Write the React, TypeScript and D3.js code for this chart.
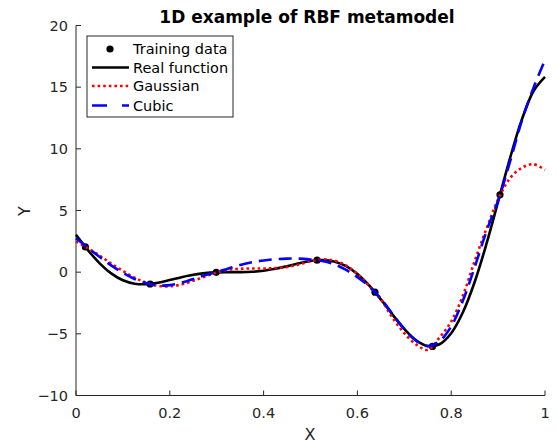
import React from "react";
import * as d3 from "d3";

const xGrid = [0, 0.025, 0.05, 0.075, 0.1, 0.125, 0.15, 0.175, 0.2, 0.225, 0.25, 0.275, 0.3, 0.325, 0.35, 0.375, 0.4, 0.425, 0.45, 0.475, 0.5, 0.525, 0.55, 0.575, 0.6, 0.625, 0.65, 0.675, 0.7, 0.725, 0.75, 0.775, 0.8, 0.825, 0.85, 0.875, 0.9, 0.925, 0.95, 0.975, 1.0];

const realY = [3.027, 1.813, 0.738, -0.1, -0.657, -0.935, -0.978, -0.854, -0.64, -0.407, -0.21, -0.079, -0.016, -0.0002, 0.002, 0.03, 0.115, 0.27, 0.483, 0.717, 0.909, 0.986, 0.871, 0.503, -0.15, -1.074, -2.209, -3.439, -4.606, -5.522, -5.993, -5.845, -4.949, -3.254, -0.799, 2.272, 5.712, 9.187, 12.303, 14.648, 15.83];

const gaussY = [2.5, 1.95, 1.35, 0.7, 0.1, -0.45, -0.85, -1.1, -1.15, -1.0, -0.7, -0.35, -0.02, 0.2, 0.28, 0.3, 0.3, 0.33, 0.42, 0.62, 0.88, 1.03, 0.95, 0.55, -0.15, -1.1, -2.2, -3.7, -4.95, -5.85, -6.3, -5.3, -4.0, -1.9, 0.9, 3.5, 5.9, 7.6, 8.45, 8.75, 8.3];

const cubicY = [2.75, 2.0, 1.25, 0.55, -0.05, -0.55, -0.9, -1.08, -1.05, -0.85, -0.55, -0.25, 0.0, 0.3, 0.58, 0.8, 0.95, 1.05, 1.1, 1.1, 1.02, 0.9, 0.65, 0.2, -0.4, -1.15, -2.15, -3.4, -4.6, -5.55, -6.0, -5.6, -4.4, -2.3, 0.4, 3.3, 5.8, 8.9, 12.2, 14.9, 17.2];

const trainX = [0.02, 0.158, 0.299, 0.514, 0.6375, 0.76, 0.904];
const trainY = [2.05, -0.96, -0.016, 0.97, -1.62, -6.02, 6.27];

const xTicks = [0, 0.2, 0.4, 0.6, 0.8, 1];
const yTicks = [-10, -5, 0, 5, 10, 15, 20];

const legendLabels = ["Training data", "Real function", "Gaussian", "Cubic"];

const FONT = "'DejaVu Sans', sans-serif";
const AX = "#262626";

export default function App() {
  const W = 558, H = 447;
  const x = d3.scaleLinear().domain([0, 1]).range([76, 545]);
  const y = d3.scaleLinear().domain([-10, 20]).range([395.5, 25.5]);

  const mk = (ys: number[]) =>
    d3.line<number>()
      .x((_, i) => x(xGrid[i]))
      .y((v) => y(v))
      .curve(d3.curveCatmullRom.alpha(0.5))(ys) || "";

  const x0 = x(0), x1 = x(1), yb = y(-10), yt = y(20);

  const lx = 87, ly = 36, lw = 146, lh = 81;
  const rows = [49, 67.5, 86, 105.5];

  return (
    <svg width={W} height={H} style={{ position: "absolute", left: 0, top: 0, background: "#fff" }} fontFamily={FONT}>
      <rect x={0} y={0} width={W} height={H} fill="#fff" />
      {/* axes */}
      <line x1={x0} y1={yb} x2={x1} y2={yb} stroke={AX} strokeWidth={1} />
      <line x1={x0} y1={yb} x2={x0} y2={yt} stroke={AX} strokeWidth={1} />
      {xTicks.map((t) => (
        <g key={"xt" + t}>
          <line x1={x(t)} x2={x(t)} y1={yb} y2={yb - 5} stroke={AX} strokeWidth={1} />
          <text x={x(t)} y={418} textAnchor="middle" fontSize={14.5} fill={AX}>{String(t)}</text>
        </g>
      ))}
      {yTicks.map((t) => (
        <g key={"yt" + t}>
          <line x1={x0} x2={x0 + 5} y1={y(t)} y2={y(t)} stroke={AX} strokeWidth={1} />
          <text x={68} y={y(t) + 5} textAnchor="end" fontSize={14.5} fill={AX}>{t < 0 ? "\u2212" + Math.abs(t) : String(t)}</text>
        </g>
      ))}
      <text x={310} y={440} textAnchor="middle" fontSize={16} fill={AX}>X</text>
      <text transform={`translate(30,211) rotate(-90)`} textAnchor="middle" fontSize={16} fill={AX}>Y</text>
      <text x={307} y={23} textAnchor="middle" fontSize={17} fontWeight="bold" fill="#000">1D example of RBF metamodel</text>

      {/* data */}
      {trainX.map((tx, i) => (
        <circle key={"p" + i} cx={x(tx)} cy={y(trainY[i])} r={3.6} fill="#000" />
      ))}
      <path d={mk(realY)} fill="none" stroke="#000" strokeWidth={2.6} />
      <path d={mk(gaussY)} fill="none" stroke="#ff0000" strokeWidth={2.6} strokeDasharray="2.6,3" />
      <path d={mk(cubicY)} fill="none" stroke="#0000ff" strokeWidth={2.6} strokeDasharray="13,7" />

      {/* legend */}
      <rect x={lx} y={ly} width={lw} height={lh} fill="#fff" stroke={AX} strokeWidth={1} />
      <circle cx={110} cy={rows[0]} r={3.6} fill="#000" />
      <line x1={92} x2={129} y1={rows[1]} y2={rows[1]} stroke="#000" strokeWidth={2.6} />
      <line x1={92} x2={129} y1={rows[2]} y2={rows[2]} stroke="#ff0000" strokeWidth={2.6} strokeDasharray="2.6,3" />
      <line x1={92} x2={129} y1={rows[3]} y2={rows[3]} stroke="#0000ff" strokeWidth={2.6} strokeDasharray="15,15" />
      {legendLabels.map((s, i) => (
        <text key={s} x={133} y={rows[i] + 5} fontSize={14.5} fill="#000">{s}</text>
      ))}
    </svg>
  );
}
